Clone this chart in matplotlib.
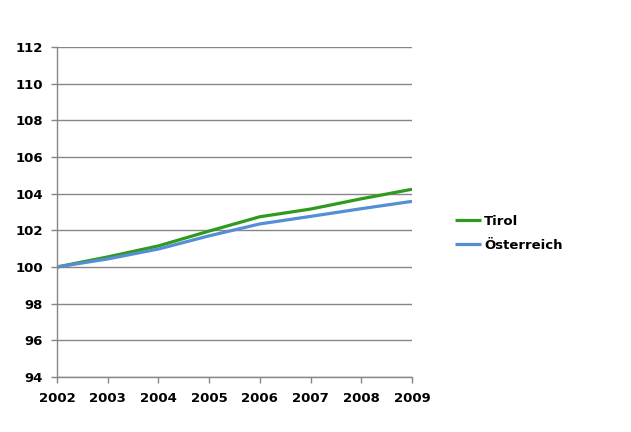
import matplotlib
matplotlib.use("Agg")
import matplotlib.pyplot as plt

years = [2002, 2003, 2004, 2005, 2006, 2007, 2008, 2009]
tirol = [100.0, 100.55, 101.15, 101.96, 102.74, 103.16, 103.72, 104.24]
oesterreich = [100.0, 100.44, 100.98, 101.70, 102.35, 102.76, 103.18, 103.58]
yticks = [94, 96, 98, 100, 102, 104, 106, 108, 110, 112]

plt.rcParams['font.family'] = ['DejaVu Sans']
fig = plt.figure(figsize=(6.31, 4.32), dpi=100)
ax = fig.add_axes([57/631, 1-377/432, (412-57)/631, (377-47)/432])

grid_c = '#868686'
ax.plot(years, tirol, color='#2E9A1E', lw=2.3, label='Tirol', solid_capstyle='butt')
ax.plot(years, oesterreich, color='#558ED5', lw=2.3, label='Österreich', solid_capstyle='butt')

ax.set_xlim(2002, 2009)
ax.set_ylim(94, 112)
ax.set_yticks(yticks)
ax.set_xticks(years)
ax.set_xticklabels([str(y) for y in years], fontsize=9.5, fontweight='bold')
ax.set_yticklabels([str(y) for y in yticks], fontsize=9.5, fontweight='bold')
ax.yaxis.grid(True, color=grid_c, lw=1)
ax.set_axisbelow(True)
for s in ['top', 'right']:
    ax.spines[s].set_visible(False)
for s in ['left', 'bottom']:
    ax.spines[s].set_color(grid_c)
    ax.spines[s].set_linewidth(1)
ax.tick_params(axis='both', direction='out', color=grid_c, length=4, width=1)
ax.tick_params(axis='x', pad=7)
ax.tick_params(axis='y', pad=6)

leg = fig.legend(loc='upper left', bbox_to_anchor=(443/631, 1-203/432), frameon=False,
                 prop={'size': 9.5, 'weight': 'bold'}, handlelength=2.0, handletextpad=0.2,
                 labelspacing=0.85)

fig.savefig('out.png', dpi=100)
